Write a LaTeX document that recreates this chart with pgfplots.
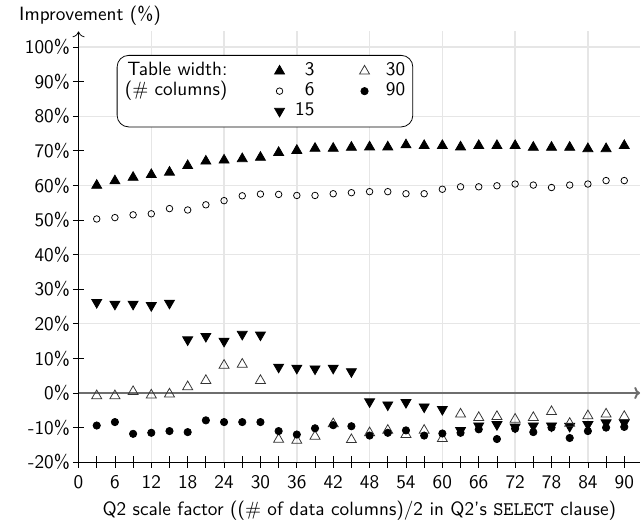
\documentclass[border=0pt]{standalone}
\usepackage{pgfplots}
\pgfplotsset{compat=1.18}
\usepackage{pgfplotstable}
\usetikzlibrary{arrows.meta}
\renewcommand{\familydefault}{\sfdefault}
\definecolor{gridgray}{RGB}{230,230,230}
\definecolor{zerogray}{RGB}{110,110,110}

\pgfplotstableread{
x s3 s6 s15 s30 s90
3 60.0 50.3 26.2 -0.8 -9.4
6 61.3 50.7 25.7 -0.8 -8.4
9 62.3 51.5 25.7 0.4 -11.8
12 63.1 51.8 25.3 -0.6 -11.5
15 63.8 53.3 26.0 -0.3 -11.0
18 65.7 52.9 15.4 1.8 -11.3
21 67.0 54.4 16.4 3.6 -7.9
24 67.3 55.6 15.0 8.0 -8.4
27 67.7 57.0 17.0 8.3 -8.4
30 68.1 57.5 16.8 3.6 -8.4
33 69.5 57.4 7.5 -13.4 -11.0
36 70.1 57.1 7.2 -13.7 -12.0
39 70.7 57.1 7.0 -12.5 -10.2
42 70.7 57.6 7.2 -8.9 -9.3
45 71.0 57.9 6.2 -13.5 -9.6
48 71.1 58.2 -2.5 -11.5 -12.3
51 71.1 58.2 -3.4 -10.8 -11.5
54 71.7 57.6 -2.7 -12.0 -10.8
57 71.5 57.6 -4.0 -10.8 -12.3
60 71.5 58.9 -4.7 -13.2 -11.7
63 71.1 59.6 -10.8 -6.1 -11.5
66 71.5 59.6 -9.5 -7.1 -10.5
69 71.5 59.9 -9.1 -6.8 -13.3
72 71.5 60.4 -9.8 -7.6 -10.3
75 71.0 60.1 -9.5 -7.1 -11.3
78 71.0 59.4 -9.5 -5.4 -10.0
81 71.0 60.1 -9.6 -8.8 -13.0
84 70.6 60.4 -9.1 -6.6 -11.0
87 70.6 61.4 -8.6 -6.1 -10.0
90 71.5 61.4 -8.6 -6.8 -9.8
}\datatable

\pgfplotsset{
  mymarks/.style={only marks, legend image code/.code={\draw[##1] plot coordinates {(0pt,0pt)};}},
}

\begin{document}
\begin{tikzpicture}
\begin{axis}[
  scale only axis,
  width=292pt, height=224pt,
  xmin=0, xmax=92.6,
  ymin=-20, ymax=104.5,
  axis x line*=bottom,
  axis y line=left,
  y axis line style={-{To[length=3pt]}},
  xtick={0,6,...,90},
  minor x tick num=1,
  ytick={-20,-10,...,100},
  tick align=center,
  major tick length=6pt,
  minor tick length=6pt,
  tick style={black, thin},
  /pgf/number format/assume math mode=true,
  yticklabel={\pgfmathprintnumber{\tick}\%},
  yticklabel style={xshift=2pt},
  xticklabel style={yshift=-0.5pt},
  extra x ticks={12,24,...,84},
  extra y ticks={20,40,60,80,100},
  extra x tick labels={},
  extra y tick labels={},
  extra tick style={grid=major, major tick length=0pt, grid style={gridgray, line width=0.7pt}},
  xlabel={Q2 scale factor ((\# of data columns)/2 in Q2's \texttt{SELECT} clause)},
  xlabel style={at={(axis description cs:0.5,0)}, anchor=north, yshift=-16.5pt},
  ylabel={Improvement (\%)},
  ylabel style={rotate=-90, at={(axis description cs:0,1)}, anchor=south, inner xsep=10pt, xshift=6pt, yshift=-0.5pt},
  clip=false,
  legend columns=3,
  transpose legend,
  legend cell align=right,
  legend style={at={(axis cs:6.3,97.7)}, anchor=north west, draw=black, rounded corners=6pt,
    inner xsep=3.5pt, inner ysep=3pt,
    nodes={inner xsep=0.5pt, inner ysep=0.2pt, text height=7.5pt, text depth=2.5pt},
    /tikz/column 2/.style={column sep=24pt},
    /tikz/column 3/.style={column sep=5pt},
    /tikz/column 4/.style={column sep=23pt},
    /tikz/column 5/.style={column sep=8pt}},
]
\addplot[zerogray, line width=1pt, -{To[length=3pt]}, forget plot] coordinates {(0,0) (92.6,0)};
\addlegendimage{empty legend}\addlegendentry{Table width:}
\addlegendimage{empty legend}\addlegendentry{(\# columns)}
\addlegendimage{empty legend}\addlegendentry{}
\addplot[mymarks, mark=triangle*, mark size=3.0pt, mark options={fill=black, draw=black}] table[x=x, y=s3] {\datatable};
\addlegendentry{3}
\addplot[mymarks, mark=o, mark size=1.7pt, mark options={draw=black, thin}] table[x=x, y=s6] {\datatable};
\addlegendentry{6}
\addplot[mymarks, mark=triangle*, mark size=3.0pt, mark options={fill=black, draw=black, rotate=180}] table[x=x, y=s15] {\datatable};
\addlegendentry{15}
\addplot[mymarks, mark=triangle, mark size=3.0pt, mark options={draw=black!80, thin}] table[x=x, y=s30] {\datatable};
\addlegendentry{30}
\addplot[mymarks, mark=*, mark size=1.9pt, mark options={fill=black, draw=black}] table[x=x, y=s90] {\datatable};
\addlegendentry{90}
\end{axis}
\end{tikzpicture}
\end{document}
